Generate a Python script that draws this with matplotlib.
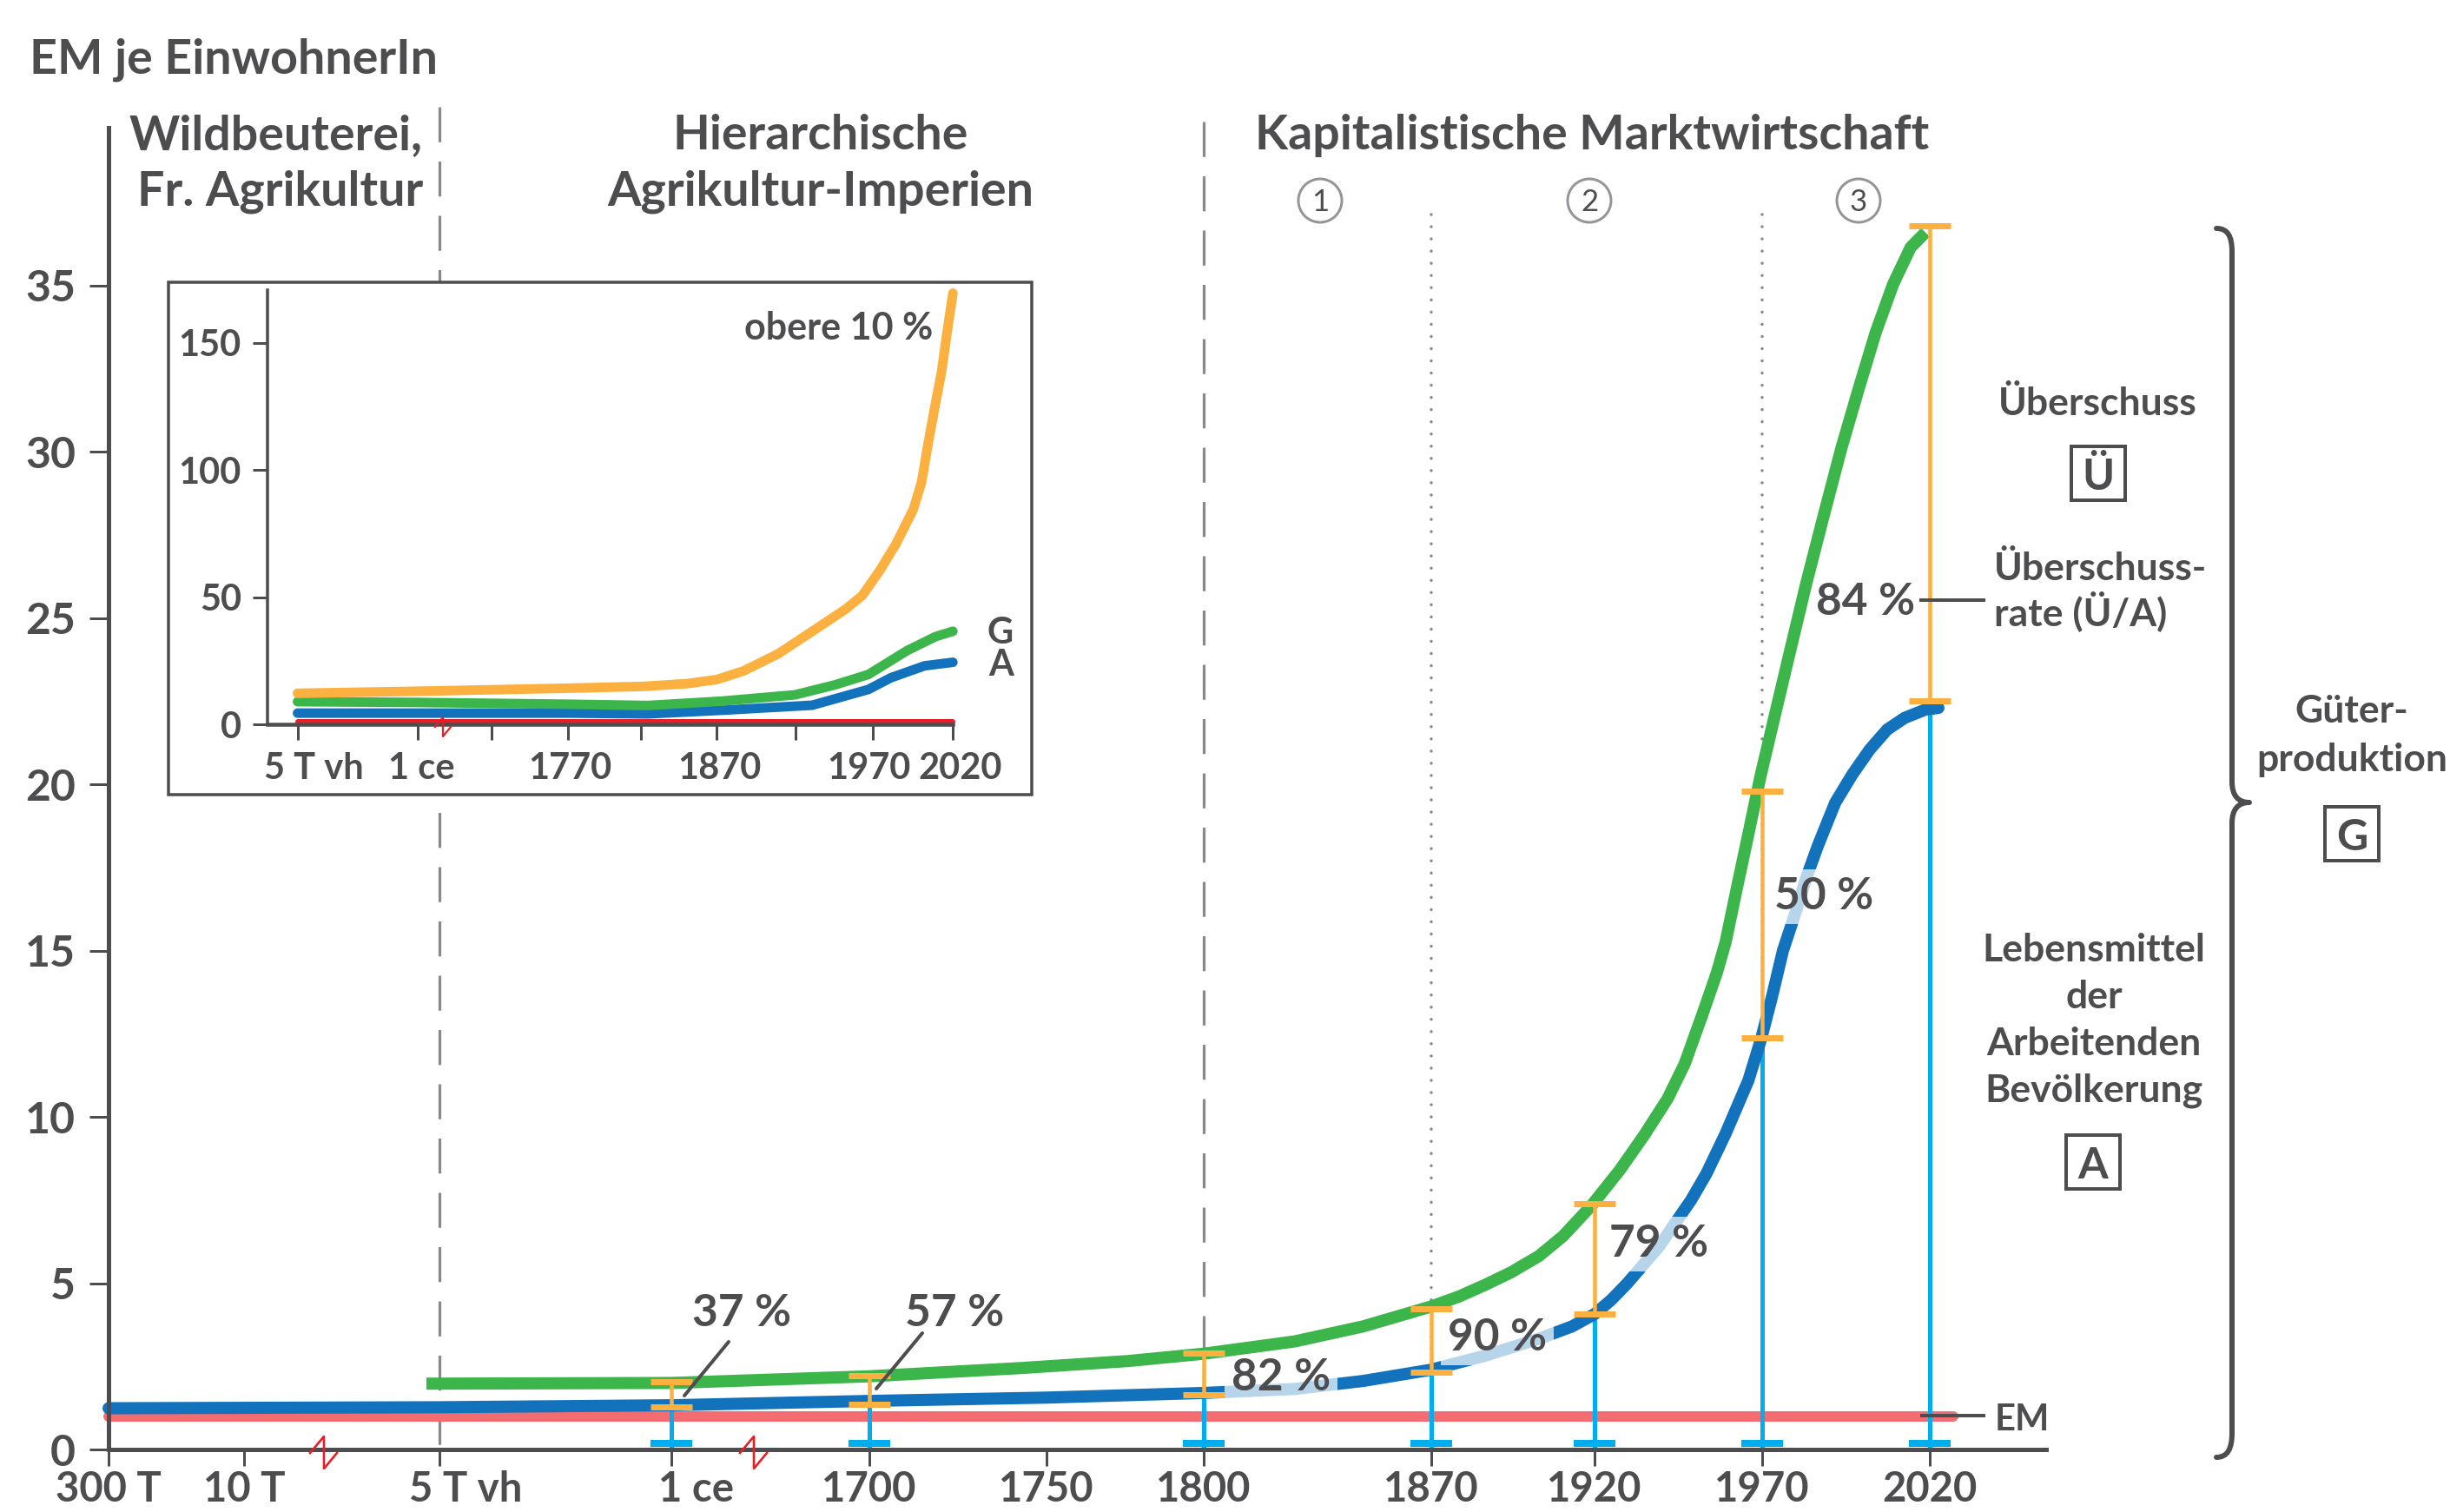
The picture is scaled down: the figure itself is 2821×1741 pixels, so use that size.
import numpy as np
import matplotlib
matplotlib.use("Agg")
import matplotlib.pyplot as plt
from matplotlib.transforms import Affine2D
from matplotlib.lines import Line2D
from matplotlib.patches import Rectangle, Circle, PathPatch
from matplotlib.path import Path
from matplotlib.ticker import FixedLocator, NullLocator

W, H, DPI = 2821, 1741, 100
PT = 72 / DPI  # points per pixel

plt.rcParams["font.family"] = ["Lato", "DejaVu Sans"]
plt.rcParams["font.weight"] = "bold"
plt.rcParams["lines.scale_dashes"] = False

TXT = "#4d4d4f"
GRAY = "#88888d"
GREEN = "#3cb54a"
BLUE = "#1273bc"
RED = "#f26c72"
ORANGE = "#fbb040"
CYAN = "#00adee"
RED2 = "#ed1c24"
CIRC = "#939598"

# ---------------- data (main chart) ----------------
tick_years = [-300000, -10000, -3000, 1, 1700, 1750, 1800, 1870, 1920, 1970, 2020]
tick_labels = ["300 T", "10 T", "5 T vh", "1 ce", "1700", "1750", "1800",
               "1870", "1920", "1970", "2020"]
# broken time axis: anchor years and their screen positions
scale_years = tick_years + [2055]
scale_pos = [125, 281, 506, 773, 1001, 1205, 1386, 1648, 1836, 2029, 2222, 2356]

y_ticks = [0, 5, 10, 15, 20, 25, 30, 35]

# G: Gueterproduktion je EinwohnerIn
g_years = [-3467, -3000, 1, 1700, 1743, 1776, 1800, 1828, 1849, 1870, 1878.5,
           1886.5, 1894.5, 1903, 1910.4, 1919.2, 1927.5, 1934.8, 1941.8, 1946.9,
           1952.1, 1956.5, 1959.1, 1962.5, 1966.0, 1969.4, 1972.9, 1978.0,
           1983.2, 1988.4, 1993.6, 1998.8, 2003.9, 2009.1, 2014.3, 2018.7]
g_vals = [1.98, 1.98, 2.0, 2.2, 2.45, 2.66, 2.88, 3.25, 3.7, 4.3, 4.6,
          4.95, 5.33, 5.82, 6.42, 7.35, 8.4, 9.45, 10.55, 11.6,
          13.06, 14.34, 15.26, 16.9, 18.56, 20.2, 21.7, 23.87,
          26.06, 28.1, 30.1, 31.9, 33.6, 35.05, 36.15, 36.6]

# A: Lebensmittel der arbeitenden Bevoelkerung
a_years = [-300000, -3000, 1, 1700, 1750, 1800, 1828, 1849, 1870, 1886.5, 1903,
           1913.1, 1920, 1925.0, 1929.8, 1934.5, 1939.2, 1948.8, 1953.4, 1959.1,
           1962.5, 1965.9, 1969.7, 1972.9, 1976.2, 1979.8, 1983.2, 1986.6,
           1991.8, 1996.9, 2002.1, 2007.3, 2012.5, 2018.7, 2022.6]
a_vals = [1.24, 1.27, 1.33, 1.46, 1.56, 1.7, 1.82, 2.06, 2.4, 2.82, 3.33,
          3.7, 4.07, 4.5, 5.0, 5.55, 6.1, 7.5, 8.3, 9.5,
          10.3, 11.1, 12.35, 13.6, 15.0, 16.1, 17.2, 18.15,
          19.45, 20.3, 21.05, 21.65, 22.0, 22.25, 22.3]

# EM: Existenzminimum
em_years = [-300000, 2027]
em_vals = [1.0, 1.0]

# marked years with A (lower) and G (upper) levels
bar_years = [1, 1700, 1800, 1870, 1920, 1970, 2020]
bar_low = [1.28, 1.36, 1.65, 2.32, 4.07, 12.38, 22.5]
bar_high = [2.04, 2.22, 2.9, 4.23, 7.39, 19.8, 36.8]
rate_labels = ["37 %", "57 %", "82 %", "90 %", "79 %", "50 %", "84 %"]

era_dashed_years = [-3000, 1800]
phase_dotted_years = [1870, 1970]

# ---------------- data (inset) ----------------
ins_scale_years = [-4000, -3000, 1, 1720, 1770, 1820, 1870, 1920, 1970, 2020]
ins_scale_pos = [308, 342.6, 480.5, 565.7, 653.6, 738.1, 825.3, 916.4, 1004.8, 1097.2]
ins_tick_years = [-3000, 1, 1720, 1770, 1820, 1870, 1920, 1970, 2020]
ins_tick_labels = ["5 T vh", "1 ce", "", "1770", "", "1870", "", "1970", "2020"]
ins_y_ticks = [0, 50, 100, 150]

top10_years = [-3000, 1, 1770, 1821, 1850.5, 1870, 1887, 1908.7, 1930.5, 1952.4,
               1963.3, 1974.1, 1984.6, 1995.3, 2000.5, 2004.1, 2007.6, 2012.9,
               2016.5, 2020]
top10_vals = [12.2, 13.0, 14.2, 14.9, 16.0, 17.6, 21.0, 27.7, 36.5, 45.3,
              50.7, 60.2, 71.0, 84.5, 95.3, 108.8, 121.0, 138.6, 154.8, 169.6]
ins_g_years = [-3000, 1, 1770, 1824.5, 1872.7, 1919.5, 1945.4, 1967.2, 1991.5, 2009.2, 2020]
ins_g_vals = [8.9, 8.6, 7.9, 7.4, 9.1, 11.6, 15.5, 19.6, 29.0, 34.5, 36.6]
ins_a_years = [-3000, 1, 1770, 1824.5, 1872.7, 1930.6, 1967.2, 1981.3, 2002.3, 2020]
ins_a_vals = [4.4, 4.4, 4.4, 4.1, 5.5, 7.5, 13.7, 18.3, 23.0, 24.4]
ins_em_years = [-3000, 2020]
ins_em_vals = [1.0, 1.0]

# ---------------- figure ----------------
fig = plt.figure(figsize=(W / DPI, H / DPI), dpi=DPI, facecolor="white")
pxT = Affine2D().scale(1.0 / W, -1.0 / H).translate(0, 1) + fig.transFigure


def fx(x):
    return x / W


def fy(y):
    return 1 - y / H


def ftext(x, y, s, size, ha="center", va="baseline", weight="bold", **kw):
    fig.text(fx(x), fy(y), s, fontsize=size, ha=ha, va=va, color=TXT,
             fontweight=weight, **kw)


def fline(xs, ys, lw_px, color=TXT, z=5, **kw):
    fig.add_artist(Line2D(xs, ys, transform=pxT, lw=lw_px * PT, color=color,
                          zorder=z, **kw))


# ---- main axes ----
YPX = 38.29
ax = fig.add_axes([fx(125), fy(1669), (2356 - 125) / W, (1669 - 147) / H])
ax.set_xscale("function", functions=(lambda x: np.interp(x, scale_years, scale_pos),
                                     lambda p: np.interp(p, scale_pos, scale_years)))
ax.set_xlim(scale_years[0], scale_years[-1])
ax.set_ylim(0, (1669 - 147) / YPX)
ax.set_facecolor("none")
for s in ["top", "right"]:
    ax.spines[s].set_visible(False)
for s in ["left", "bottom"]:
    ax.spines[s].set_linewidth(5 * PT)
    ax.spines[s].set_color(TXT)
    ax.spines[s].set_zorder(4.5)
ax.xaxis.set_major_locator(FixedLocator(tick_years))
ax.xaxis.set_minor_locator(NullLocator())
ax.yaxis.set_major_locator(FixedLocator(y_ticks))
ax.tick_params(axis="x", direction="out", length=19 * PT, width=3 * PT,
               colors=TXT, labelbottom=False)
ax.tick_params(axis="y", direction="out", length=22 * PT, width=3 * PT,
               colors=TXT, labelsize=36, pad=16 * PT)
for lab in ax.get_yticklabels():
    lab.set_fontweight("bold")

x_offsets_px = {"5 T vh": 30, "1 ce": 29}
for yr, lab in zip(tick_years, tick_labels):
    ax.annotate(lab, xy=(yr, 0), xytext=(x_offsets_px.get(lab, 0) * PT, -60 * PT),
                textcoords="offset points", ha="center", va="baseline", fontsize=34,
                color=TXT, fontweight="bold", annotation_clip=False)

# era separators (dashed) and phase separators (dotted)
for yr, ytop in zip(era_dashed_years, [40.38, 39.93]):
    ax.plot([yr, yr], [ytop, 0], color=GRAY, lw=3.2 * PT, dashes=(29, 16),
            clip_on=False, zorder=1, solid_capstyle="butt")
for yr in phase_dotted_years:
    ax.plot([yr, yr], [37.14, 0], color=GRAY, lw=3.5 * PT, dashes=(0.01, 10.1),
            dash_capstyle="round", clip_on=False, zorder=1)

# lines
ax.plot(em_years, em_vals, color=RED, lw=12 * PT, solid_capstyle="round",
        zorder=2, clip_on=False)
ax.vlines(bar_years, 0, bar_low, color=CYAN, lw=5 * PT, zorder=2.5)
ax.plot(a_years, a_vals, color=BLUE, lw=14 * PT, solid_capstyle="round",
        solid_joinstyle="round", zorder=3, clip_on=False)
ax.plot(g_years, g_vals, color=GREEN, lw=14 * PT, solid_capstyle="butt",
        solid_joinstyle="round", zorder=4, clip_on=False)

low = np.array(bar_low)
high = np.array(bar_high)
ax.errorbar(bar_years, low, yerr=[np.zeros_like(low), high - low], fmt="none",
            ecolor=ORANGE, elinewidth=4.5 * PT, capsize=24 * PT, capthick=7 * PT,
            zorder=5, clip_on=False)
base_marker = Path([(-3, 0.4), (3, 0.4), (3, 1.4), (-3, 1.4), (-3, 0.4)],
                   [Path.MOVETO, Path.LINETO, Path.LINETO, Path.LINETO, Path.CLOSEPOLY])
ax.plot(bar_years, np.zeros(len(bar_years)), ls="none", marker=base_marker,
        markersize=48 * PT, color=CYAN, markeredgewidth=0, zorder=5, clip_on=False)

# rate labels (pixel layout positions)
rate_pos = [(854, 1527), (1099, 1527), (1475, 1601), (1724, 1555),
            (1910, 1447), (2100, 1047), (2148, 708)]
for (x, y), lab in zip(rate_pos, rate_labels):
    ax.text(x, y, lab, transform=pxT, fontsize=37, ha="center", va="baseline",
            color=TXT, fontweight="bold", zorder=3.5,
            bbox=dict(boxstyle="square,pad=0.15", fc="white", ec="none", alpha=0.7))
# leader lines for 37 % and 57 %
fline([839, 788], [1545, 1607], 4, solid_capstyle="round")
fline([1062, 1009], [1535, 1599], 4, solid_capstyle="round")
# leader lines for 84 % and EM
fline([2212, 2284], [691, 691], 4)
fline([2213, 2284], [1630, 1630], 4)

# axis break marks
for cx in [373, 868]:
    fline([cx - 16, cx, cx, cx + 15], [1673, 1654, 1691, 1673], 2.6, color=RED2, z=6)

# ---- header texts ----
ftext(34, 85, "EM je EinwohnerIn", 40, ha="left")
ftext(487, 172, "Wildbeuterei,", 40, ha="right")
ftext(487, 237, "Fr. Agrikultur", 40, ha="right")
ftext(945, 172, "Hierarchische", 40)
ftext(945, 237, "Agrikultur-Imperien", 40)
ftext(1833, 172, "Kapitalistische Marktwirtschaft", 40)
for cx, d in zip([1520, 1830, 2140], ["1", "2", "3"]):
    fig.add_artist(Circle((cx, 231), 25, transform=pxT, fill=False, ec=CIRC,
                          lw=3 * PT, zorder=5))
    ftext(cx, 243, d, 25, weight="normal")

# ---- right side annotations ----
ftext(2415, 478, "Überschuss", 32)
ftext(2296, 668, "Überschuss-", 32, ha="left")
ftext(2296, 720, "rate (Ü/A)", 32, ha="left")
ftext(2411, 1107, "Lebensmittel", 32)
ftext(2411, 1161, "der", 32)
ftext(2411, 1215, "Arbeitenden", 32)
ftext(2411, 1269, "Bevölkerung", 32)
ftext(2708, 832, "Güter-", 32)
ftext(2708, 888, "produktion", 32)
ftext(2297, 1647, "EM", 30, ha="left")
for (cx, cy), letter in zip([(2416, 545), (2410, 1338), (2708, 960)], ["Ü", "A", "G"]):
    fig.add_artist(Rectangle((cx - 31, cy - 31), 62, 62, transform=pxT, fill=False,
                             ec=TXT, lw=4 * PT, zorder=5))
    ftext(cx, cy + 19, letter, 36)

# brace
bv = [(2552, 263), (2565, 263), (2570, 272), (2570, 290),
      (2570, 900),
      (2570, 916), (2577, 924), (2590, 924),
      (2577, 924), (2570, 932), (2570, 948),
      (2570, 1650),
      (2570, 1668), (2565, 1678), (2552, 1678)]
bc = [Path.MOVETO, Path.CURVE4, Path.CURVE4, Path.CURVE4, Path.LINETO,
      Path.CURVE4, Path.CURVE4, Path.CURVE4, Path.CURVE4, Path.CURVE4, Path.CURVE4,
      Path.LINETO, Path.CURVE4, Path.CURVE4, Path.CURVE4]
fig.add_artist(PathPatch(Path(bv, bc), transform=pxT, fill=False, ec=TXT,
                         lw=6 * PT, capstyle="round", joinstyle="round", zorder=5))

# ---- inset ----
fig.add_artist(Rectangle((194, 325), 994, 590, transform=pxT, fc="white",
                         ec=TXT, lw=3.5 * PT, zorder=1))
axi = fig.add_axes([fx(308), fy(834), (1097.2 - 308) / W, (834 - 334) / H], zorder=2)
axi.set_xscale("function", functions=(lambda x: np.interp(x, ins_scale_years, ins_scale_pos),
                                      lambda p: np.interp(p, ins_scale_pos, ins_scale_years)))
axi.set_xlim(ins_scale_years[0], ins_scale_years[-1])
axi.set_ylim(0, 500 / 2.927)
axi.set_facecolor("none")
for s in ["top", "right"]:
    axi.spines[s].set_visible(False)
axi.spines["left"].set_linewidth(3.5 * PT)
axi.spines["bottom"].set_linewidth(4.5 * PT)
for s in ["left", "bottom"]:
    axi.spines[s].set_color(TXT)
axi.xaxis.set_major_locator(FixedLocator(ins_tick_years))
axi.xaxis.set_minor_locator(NullLocator())
axi.yaxis.set_major_locator(FixedLocator(ins_y_ticks))
axi.tick_params(axis="x", direction="out", length=18 * PT, width=3 * PT,
                colors=TXT, labelbottom=False)
axi.tick_params(axis="y", direction="out", length=17 * PT, width=3 * PT,
                colors=TXT, labelsize=30, pad=13 * PT)
for lab in axi.get_yticklabels():
    lab.set_fontweight("bold")
ins_offsets_px = {"5 T vh": 19, "1 ce": 5, "1770": 3, "1870": 3, "1970": -4, "2020": 8}
for yr, lab in zip(ins_tick_years, ins_tick_labels):
    if lab:
        axi.annotate(lab, xy=(yr, 0), xytext=(ins_offsets_px.get(lab, 0) * PT, -32 * PT),
                     textcoords="offset points", ha="center", va="top", fontsize=30,
                     color=TXT, fontweight="bold", annotation_clip=False)

axi.plot(ins_em_years, ins_em_vals, color=RED2, lw=6 * PT, solid_capstyle="round",
         zorder=2, clip_on=False)
axi.plot(ins_a_years, ins_a_vals, color=BLUE, lw=11 * PT, solid_capstyle="round",
         solid_joinstyle="round", zorder=3, clip_on=False)
axi.plot(ins_g_years, ins_g_vals, color=GREEN, lw=11 * PT, solid_capstyle="round",
         solid_joinstyle="round", zorder=4, clip_on=False)
axi.plot(top10_years, top10_vals, color=ORANGE, lw=11 * PT, solid_capstyle="round",
         solid_joinstyle="round", zorder=5, clip_on=False)

ftext(1074, 391, "obere 10 %", 31, ha="right")
ftext(1136, 741, "G", 30, ha="left")
ftext(1138, 778, "A", 30, ha="left")
fline([501, 510, 510, 519], [837, 826, 848, 837], 2.2, color=RED2, z=6)

fig.savefig("out.png", dpi=DPI, facecolor="white")
